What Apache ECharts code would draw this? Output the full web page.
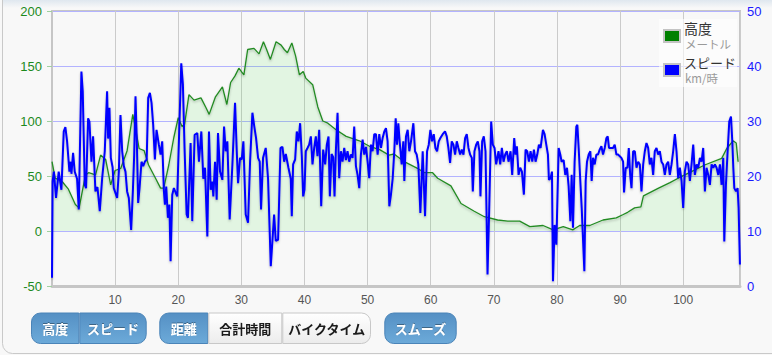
<!DOCTYPE html>
<html>
<head>
<meta charset="utf-8">
<script src="https://cdn.jsdelivr.net/npm/echarts@6/dist/echarts.min.js"></script>
<style>
html,body{margin:0;padding:0;background:#f8f8f8;}
#chart{width:772px;height:355px;}
</style>
</head>
<body>
<div id="chart"></div>
<script>
// ---- Data ----
const xTicks = [10, 20, 30, 40, 50, 60, 70, 80, 90, 100];
const altTicks = [-50, 0, 50, 100, 150, 200];
const speedTicks = [0, 10, 20, 30, 40, 50];

const altName = '高度', altUnit = 'メートル';
const speedName = 'スピード', speedUnit = 'km/時';

const altDist = [0,0.5,1.6,2.6,3.7,4.3,5.3,5.8,6.9,7.7,8.5,9.3,10,10.9,11.9,12.8,13.3,13.8,14.6,15.3,16.4,17.2,17.7,18.5,19.3,20,20.6,21,21.7,22.5,23.6,24.4,24.9,25.9,27,27.7,28.3,29,29.6,30.4,31,32,32.8,33.5,34,34.6,35.5,36.3,36.8,37.3,38,38.6,39.2,39.8,40.2,41.3,42.1,42.9,43.7,45,46.6,48.7,50.3,51.9,53.4,54.2,55.8,57.9,59,60.3,61.1,63.2,64.8,66.9,68.5,70.6,72.2,74.1,75.7,77.8,79.4,81,82.5,83.6,85.2,87.3,89.4,90.5,91.2,92.3,93.3,93.7,96.1,97.9,99.2,101.3,103.4,106.1,106.9,107.9,108.4,108.7];
const altVal = [63,48,45,38,24,21,51,53,51,69,65,42,55,57,73,106,91,75,73,60,48,39,39,60,85,103,95,97,124,119,121,112,106,122,131,115,135,141,148,142,165,166,161,172,165,156,172,169,165,162,171,159,142,145,139,133,113,100,98,92,86,82,77,74,69,70,63,57,53,53,48,41,25,18,13,10,9,9,4,5,1,4,1,5,5,10,12,15,17,21,22,32,39,44,48,54,60,66,75,82,80,63];

const spdDist = [0,0.1,0.3,0.64,1.06,1.49,1.86,2.12,2.39,2.76,2.97,3.08,3.34,3.6,3.97,4.24,4.66,4.87,5.19,5.4,5.72,5.93,6.25,6.51,6.88,7.2,7.57,7.94,8.36,8.73,8.89,9.1,9.32,9.6,9.79,10.32,10.59,10.85,11.12,11.38,11.64,11.9,12.17,12.54,12.81,13.02,13.23,13.44,13.65,13.87,14.18,14.45,14.71,15.0,15.24,15.51,15.77,16.03,16.3,16.56,16.93,17.2,17.46,17.73,17.89,18.1,18.36,18.6,18.79,19.05,19.31,19.58,19.84,20.48,20.74,21.0,21.33,21.54,21.96,22.22,22.6,23.02,23.28,23.66,23.97,24.24,24.61,24.87,25.14,25.4,25.56,25.83,26.09,26.3,26.62,26.99,27.26,27.52,27.78,28.15,28.58,29.0,29.27,29.48,29.79,30.06,30.32,30.69,31.06,31.38,31.75,32.01,32.33,32.65,32.91,33.12,33.44,33.86,34.23,34.66,34.92,35.19,35.45,35.82,36.2,36.51,36.78,37.04,37.46,37.83,37.99,38.2,38.52,38.78,39.05,39.31,39.58,39.79,40.0,40.21,40.48,40.74,41.01,41.27,41.54,41.8,42.06,42.33,42.65,42.96,43.28,43.54,43.81,44.02,44.29,44.55,44.76,44.97,45.24,45.5,45.77,46.03,46.3,46.56,46.82,47.09,47.35,47.62,47.88,48.15,48.41,48.68,48.94,49.21,49.47,49.74,50.0,50.26,50.53,50.79,51.06,51.32,51.59,51.85,52.12,52.38,52.65,52.91,53.17,53.44,53.7,53.97,54.23,54.45,54.66,54.87,55.08,55.4,55.66,55.82,56.08,56.35,56.61,56.88,57.25,57.51,57.78,58.04,58.36,58.73,59.1,59.42,59.69,59.95,60.21,60.48,60.74,61.01,61.27,61.53,61.9,62.27,62.54,62.8,63.07,63.33,63.6,63.86,64.13,64.39,64.66,64.92,65.19,65.45,65.71,65.98,66.24,66.51,66.67,66.93,67.2,67.46,67.72,67.88,68.15,68.41,68.68,68.84,69.0,69.26,69.58,69.84,70.11,70.37,70.74,71.01,71.27,71.54,71.8,72.06,72.33,72.65,72.91,73.23,73.44,73.65,73.92,74.18,74.45,74.76,75.03,75.29,75.56,75.82,76.09,76.35,76.61,76.88,77.14,77.41,77.78,78.04,78.31,78.57,78.73,78.99,79.21,79.37,79.63,79.9,80.27,80.53,80.74,81.06,81.32,81.59,81.85,82.12,82.33,82.54,82.8,83.07,83.23,83.44,83.7,83.92,84.34,84.55,84.76,85.03,85.29,85.5,85.71,85.98,86.24,86.51,86.77,87.04,87.3,87.57,87.83,88.04,88.25,88.52,88.89,89.15,89.42,89.68,89.95,90.21,90.48,90.63,90.9,91.17,91.38,91.6,91.81,92.07,92.34,92.6,92.87,93.13,93.39,93.66,93.92,94.18,94.45,94.71,94.97,95.24,95.5,95.77,96.03,96.3,96.56,96.83,97.09,97.35,97.62,97.88,98.15,98.41,98.68,98.94,99.21,99.47,99.74,100.0,100.26,100.53,100.79,101.06,101.32,101.59,101.85,102.12,102.38,102.65,102.91,103.17,103.44,103.7,103.97,104.23,104.5,104.76,105.03,105.29,105.56,105.82,106.08,106.35,106.51,106.77,107.04,107.3,107.57,107.78,107.94,108.1,108.36,108.62,108.78,108.99];
const spdVal = [1.5,19.0,20.8,16.0,20.8,17.5,28.1,28.9,26.3,20.8,22.6,20.4,24.2,20.8,19.5,13.9,39.0,35.4,18.4,17.8,30.5,29.9,22.6,27.2,17.2,18.0,13.6,19.5,24.5,35.4,26.8,32.4,23.3,21.6,17.8,16.0,20.8,31.1,24.5,21.8,20.8,17.2,16.0,10.2,17.2,23.8,34.5,26.3,15.1,17.8,22.6,21.8,22.6,23.0,34.2,35.1,33.3,29.3,23.0,28.4,25.7,23.9,26.3,17.2,14.8,18.1,12.4,14.8,4.5,16.6,17.8,17.0,16.3,40.5,36.6,25.1,13.0,12.4,26.0,11.8,27.5,27.8,22.6,28.1,19.5,21.5,9.0,28.1,17.5,19.0,16.3,22.6,15.7,27.8,20.8,19.3,29.0,24.5,26.3,12.1,22.1,33.3,24.5,18.7,23.3,23.0,26.3,13.0,11.5,22.6,31.5,29.3,26.9,23.3,22.6,13.9,23.3,25.1,19.5,3.6,8.2,13.0,8.2,8.4,25.1,25.3,22.6,24.0,21.5,19.5,12.7,22.1,23.0,28.1,26.3,29.6,23.6,16.3,17.5,24.5,25.1,25.7,27.2,22.1,25.1,27.2,23.6,28.4,14.5,24.8,22.1,25.7,27.2,16.3,24.0,23.4,16.3,24.5,31.5,19.6,24.5,22.6,25.1,22.9,24.5,22.6,23.9,23.3,29.0,21.8,20.2,17.8,23.9,26.6,23.9,25.3,22.6,19.6,25.7,24.5,27.6,27.6,23.9,27.6,25.1,26.9,28.1,28.7,26.3,14.5,16.6,19.5,24.5,30.5,25.7,29.6,26.3,22.1,26.3,19.1,27.2,28.4,24.5,26.3,29.6,24.5,23.9,22.1,13.3,24.5,12.7,24.5,25.7,28.4,26.3,27.6,25.1,24.5,26.3,26.9,27.6,28.1,27.2,25.1,22.4,26.3,25.7,23.9,26.3,25.1,23.9,24.8,23.9,26.9,27.6,25.1,23.9,23.3,17.2,24.5,25.7,26.3,24.5,16.3,26.3,27.2,24.5,13.6,2.1,13.6,29.9,25.7,25.1,22.1,24.5,22.1,25.1,22.6,23.9,24.5,22.6,24.5,20.2,26.9,23.9,25.4,20.2,21.5,20.8,16.6,24.8,24.5,22.6,24.5,22.6,24.8,22.6,23.9,25.7,25.1,28.4,27.6,25.7,23.9,19.3,19.6,20.8,0.85,11.1,7.5,25.1,23.9,22.6,22.9,20.2,21.5,18.1,11.8,20.2,10.6,22.6,29.0,29.3,25.1,19.1,14.2,2.7,19.1,22.6,23.9,24.5,19.1,23.3,22.1,23.9,23.9,24.8,25.4,23.9,25.1,26.9,27.2,25.1,25.1,25.1,25.7,23.9,23.9,23.6,23.3,22.6,17.0,21.5,21.5,25.1,20.2,17.8,24.5,24.5,21.5,22.6,22.1,17.2,22.1,24.5,26.0,25.1,22.1,23.3,20.2,24.5,25.1,23.9,24.5,22.6,22.1,20.2,22.1,22.6,20.2,22.1,24.5,27.6,24.5,19.6,21.5,19.1,14.2,20.8,22.6,22.1,19.1,22.1,25.7,20.2,22.1,21.5,23.3,22.6,25.1,17.2,21.5,20.2,18.4,22.1,21.5,22.1,21.5,20.2,22.1,18.4,23.3,8.1,18.4,24.5,29.9,30.8,26.3,21.5,17.8,17.2,17.8,14.2,3.9];

const buttonGroups = [
  [{label:'高度', on:true}, {label:'スピード', on:true}],
  [{label:'距離', on:true}, {label:'合計時間', on:false}, {label:'バイクタイム', on:false}],
  [{label:'スムーズ', on:true}]
];

// ---- Build ----
const chart = echarts.init(document.getElementById('chart'), null, {renderer:'svg'});
const altData = altDist.map((d,i)=>[d, altVal[i]]);
const spdData = spdDist.map((d,i)=>[d, spdVal[i]]);

const JP = '"Noto Sans CJK JP", sans-serif';
const NUM = '"Liberation Sans", Arial, sans-serif';

const btnBoxes = [
  [[31,79.3],[79.3,146.7]],
  [[159.3,208.3],[208.3,282.3],[282.3,371]],
  [[384.3,456.7]]
];
const btnY = 312.5, btnH = 31.5, R = 9;
const graphics = [];
graphics.push({type:'rect', silent:true, z:-5, shape:{x:2.5,y:-20,width:800,height:373.5,r:10}, style:{fill:'none', stroke:'#c9c9c9', lineWidth:1}});
graphics.push({type:'rect', silent:true, z:-5, shape:{x:3,y:0,width:772,height:8}, style:{fill:new echarts.graphic.LinearGradient(0,0,0,1,[{offset:0,color:'#dfe7ef'},{offset:1,color:'#f8f8f8'}])}});
buttonGroups.forEach((grp, gi)=>{
  grp.forEach((b, bi)=>{
    const [x0,x1] = btnBoxes[gi][bi];
    const first = bi===0, last = bi===grp.length-1;
    const r = [first?R:0, last?R:0, last?R:0, first?R:0];
    graphics.push({type:'rect', shape:{x:x0+0.5,y:btnY+0.5,width:x1-x0-1,height:btnH-1,r:r},
      style:{fill: b.on ? new echarts.graphic.LinearGradient(0,0,0,1,[{offset:0,color:'#5590c4'},{offset:1,color:'#6caad9'}])
                        : new echarts.graphic.LinearGradient(0,0,0,1,[{offset:0,color:'#ffffff'},{offset:1,color:'#ececec'}]),
             stroke: b.on ? '#4a84b8' : '#c8c8c8', lineWidth:1}});
    graphics.push({type:'text', x:(x0+x1)/2, y:btnY+btnH/2+0.5,
      style:{text:b.label, fill: b.on ? '#ffffff' : '#1a1a1a', font:'bold 13px '+JP, align:'center', verticalAlign:'middle',
             textShadowColor: b.on ? 'rgba(0,0,0,0.35)' : 'rgba(255,255,255,0)', textShadowBlur:1, textShadowOffsetY: b.on? -1:0}});
  });
});
// legend
graphics.push({type:'rect', shape:{x:659,y:19,width:78,height:68}, style:{fill:'rgba(255,255,255,0.6)'}, z:10});
graphics.push({type:'rect', shape:{x:664,y:30,width:16,height:12}, style:{fill:'#008000', stroke:'#c4c4c4', lineWidth:2}, z:11});
graphics.push({type:'rect', shape:{x:664,y:64,width:16,height:12}, style:{fill:'#0000ff', stroke:'#c4c4c4', lineWidth:2}, z:11});
graphics.push({type:'text', x:684, y:28, z:11, style:{text:altName, fill:'#333', font:'14px '+JP, align:'left', verticalAlign:'middle'}});
graphics.push({type:'text', x:685, y:44, z:11, style:{text:altUnit, fill:'#9a9a9a', font:'11.5px '+JP, align:'left', verticalAlign:'middle'}});
graphics.push({type:'text', x:684, y:62, z:11, style:{text:speedName, fill:'#333', font:'13px '+JP, align:'left', verticalAlign:'middle'}});
graphics.push({type:'text', x:685, y:78, z:11, style:{text:speedUnit, fill:'#9a9a9a', font:'11.5px '+JP, align:'left', verticalAlign:'middle'}});

const option = {
  backgroundColor:'#f8f8f8',
  animation:false,
  grid:{left:52, right:32, top:11, bottom:69, show:true, borderColor:'#c6c6c6', borderWidth:2, backgroundColor:'#f8f8f8'},
  xAxis:{type:'value', min:0, max:109, interval:10,
    axisLine:{show:true, onZero:false, lineStyle:{color:'#c6c6c6', width:3}},
    axisTick:{show:false},
    splitLine:{show:true, lineStyle:{color:'#cbcbcb', width:1}},
    axisLabel:{color:'#555', fontFamily:NUM, fontSize:12, margin:8,
      formatter:v => xTicks.indexOf(v) >= 0 ? String(v) : ''}
  },
  yAxis:[
    {type:'value', min:altTicks[0], max:altTicks[altTicks.length-1], interval:50, position:'left',
      axisLine:{show:true, lineStyle:{color:'#c6c6c6', width:2}},
      axisTick:{show:true, length:5, lineStyle:{color:'#9fd09f'}},
      splitLine:{show:true, lineStyle:{color:'#b3b3ff', width:1}},
      axisLabel:{color:'#1c8a1c', fontFamily:NUM, fontSize:13, margin:10}
    },
    {type:'value', min:speedTicks[0], max:speedTicks[speedTicks.length-1], interval:10, position:'right',
      axisLine:{show:false}, axisTick:{show:false}, splitLine:{show:false},
      axisLabel:{color:'#1a1aff', fontFamily:NUM, fontSize:13, margin:7}
    }
  ],
  series:[
    {name:altName, type:'line', yAxisIndex:0, data:altData, symbol:'none', smooth:false,
      lineStyle:{color:'#238b23', width:1.3, shadowColor:'rgba(0,0,0,0.25)', shadowBlur:2, shadowOffsetY:1.5},
      itemStyle:{color:'#238b23'},
      areaStyle:{color:'rgba(30,225,30,0.14)', origin:0}, z:2},
    {name:speedName, type:'line', yAxisIndex:1, data:spdData, symbol:'none', smooth:false,
      lineStyle:{color:'#0000ff', width:2, shadowColor:'rgba(0,0,0,0.25)', shadowBlur:2, shadowOffsetY:1.5},
      itemStyle:{color:'#0000ff'}, z:3}
  ],
  graphic:graphics
};
chart.setOption(option);
</script>
</body>
</html>
